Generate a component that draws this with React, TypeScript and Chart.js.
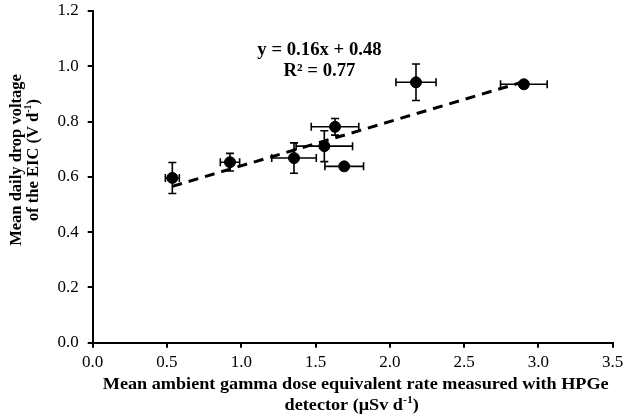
import React, { useEffect, useRef } from "react";
import { Chart, registerables } from "chart.js";
Chart.register(...registerables);

const xValues = [0.536, 0.924, 1.355, 1.559, 1.631, 1.693, 2.176, 2.902];
const yValues = [0.596, 0.653, 0.668, 0.711, 0.781, 0.638, 0.942, 0.935];
const xErrors = [0.047, 0.065, 0.15, 0.19, 0.16, 0.13, 0.135, 0.157];
const yErrors = [0.056, 0.032, 0.055, 0.056, 0.03, 0.0, 0.066, 0.0];
const trendSlope = 0.16;
const trendIntercept = 0.48;
const equationLines = ["y = 0.16x + 0.48", "R² = 0.77"];
const xTitle1 = "Mean ambient gamma dose equivalent rate measured with HPGe";
const xTitle2 = [{ t: "detector (μSv d" }, { t: "-1", sup: true }, { t: ")" }];
const yTitle1 = "Mean daily drop voltage";
const yTitle2 = [{ t: "of the EIC (V d" }, { t: "-1", sup: true }, { t: ")" }];

const FONT = "'Liberation Serif', 'Times New Roman', serif";

type Seg = { t: string; sup?: boolean };

function drawRich(
  ctx: CanvasRenderingContext2D,
  segs: Seg[],
  cx: number,
  cy: number,
  size: number,
  stretch = 1
) {
  const main = `bold ${size}px ${FONT}`;
  const sub = `bold ${Math.round(size * 0.62)}px ${FONT}`;
  let total = 0;
  const widths = segs.map((s) => {
    ctx.font = s.sup ? sub : main;
    const w = ctx.measureText(s.t).width;
    total += w;
    return w;
  });
  ctx.save();
  ctx.translate(cx, cy);
  ctx.scale(stretch, 1);
  let x = -total / 2;
  ctx.textAlign = "left";
  ctx.textBaseline = "middle";
  segs.forEach((s, i) => {
    ctx.font = s.sup ? sub : main;
    ctx.fillText(s.t, x, s.sup ? -size * 0.32 : 0);
    x += widths[i];
  });
  ctx.restore();
}

export default function App() {
  const ref = useRef<HTMLCanvasElement>(null);
  useEffect(() => {
    document.body.style.margin = "0";
    const canvas = ref.current!;
    const points = xValues.map((x, i) => ({ x, y: yValues[i] }));
    const xMin = Math.min(...xValues);
    const xMax = Math.max(...xValues);
    const trend = [
      { x: xMin, y: trendSlope * xMin + trendIntercept },
      { x: xMax, y: trendSlope * xMax + trendIntercept },
    ];

    const errorBars = {
      id: "errorBars",
      beforeDatasetsDraw(chart: any) {
        const { ctx, scales } = chart;
        const xs = scales.x;
        const ys = scales.y;
        ctx.save();
        ctx.strokeStyle = "#000";
        ctx.lineWidth = 1.6;
        const cap = 4;
        for (let i = 0; i < xValues.length; i++) {
          const px = xs.getPixelForValue(xValues[i]);
          const py = ys.getPixelForValue(yValues[i]);
          if (xErrors[i] > 0) {
            const l = xs.getPixelForValue(xValues[i] - xErrors[i]);
            const r = xs.getPixelForValue(xValues[i] + xErrors[i]);
            ctx.beginPath();
            ctx.moveTo(l, py); ctx.lineTo(r, py);
            ctx.moveTo(l, py - cap); ctx.lineTo(l, py + cap);
            ctx.moveTo(r, py - cap); ctx.lineTo(r, py + cap);
            ctx.stroke();
          }
          if (yErrors[i] > 0) {
            const t = ys.getPixelForValue(yValues[i] + yErrors[i]);
            const b = ys.getPixelForValue(yValues[i] - yErrors[i]);
            ctx.beginPath();
            ctx.moveTo(px, t); ctx.lineTo(px, b);
            ctx.moveTo(px - cap, t); ctx.lineTo(px + cap, t);
            ctx.moveTo(px - cap, b); ctx.lineTo(px + cap, b);
            ctx.stroke();
          }
        }
        ctx.restore();
      },
    };

    const titles = {
      id: "titles",
      afterDraw(chart: any) {
        const { ctx, chartArea } = chart;
        ctx.save();
        ctx.fillStyle = "#000";
        const cx = (chartArea.left + chartArea.right) / 2;
        drawRich(ctx, [{ t: xTitle1 }], cx + 3, 384.5, 17, 1.07);
        drawRich(ctx, xTitle2, cx - 1, 406, 17, 1.07);
        ctx.save();
        ctx.translate(17, 160);
        ctx.rotate(-Math.PI / 2);
        drawRich(ctx, [{ t: yTitle1 }], 0, 0, 16.5);
        ctx.restore();
        ctx.save();
        ctx.translate(34, 160);
        ctx.rotate(-Math.PI / 2);
        drawRich(ctx, yTitle2, 0, 0, 16.5);
        ctx.restore();
        drawRich(ctx, [{ t: equationLines[0] }], 319.5, 50.5, 18, 1.04);
        drawRich(ctx, [{ t: equationLines[1] }], 319.5, 71.5, 18, 1.04);
        ctx.restore();
      },
    };

    const chart = new Chart(canvas, {
      type: "scatter",
      data: {
        datasets: [
          {
            type: "line",
            data: trend,
            borderColor: "#000",
            borderWidth: 3,
            borderDash: [10, 7],
            pointRadius: 0,
            fill: false,
            order: 1,
          } as any,
          {
            data: points,
            backgroundColor: "#000",
            borderColor: "#000",
            pointRadius: 5.5,
            pointHoverRadius: 5.5,
            order: 0,
          },
        ],
      },
      options: {
        responsive: false,
        animation: false,
        devicePixelRatio: 1,
        layout: { padding: { left: 0, right: 12.3, top: 11, bottom: 0 } },
        plugins: { legend: { display: false }, tooltip: { enabled: false } },
        scales: {
          x: {
            type: "linear",
            min: 0,
            max: 3.5,
            ticks: {
              stepSize: 0.5,
              callback: (v: any) => Number(v).toFixed(1),
              font: { family: FONT, size: 17 },
              color: "#000",
              padding: 5,
              maxRotation: 0,
            },
            grid: { drawOnChartArea: false, drawTicks: true, tickLength: 5, color: "#000", lineWidth: 2 },
            border: { color: "#000", width: 2 },
            afterFit: (s: any) => {
              s.height = 73.3;
              s.paddingLeft = 0;
              s.paddingRight = 0;
            },
          },
          y: {
            type: "linear",
            min: 0,
            max: 1.2,
            ticks: {
              stepSize: 0.2,
              callback: (v: any) => Number(v).toFixed(1),
              font: { family: FONT, size: 17 },
              color: "#000",
              padding: 9,
            },
            grid: { drawOnChartArea: false, drawTicks: true, tickLength: 5, color: "#000", lineWidth: 2 },
            border: { color: "#000", width: 2 },
            afterFit: (s: any) => {
              s.width = 92.7;
              s.paddingTop = 0;
              s.paddingBottom = 0;
            },
          },
        },
      },
      plugins: [errorBars, titles],
    });
    return () => chart.destroy();
  }, []);
  return (
    <div style={{ position: "absolute", left: 0, top: 0, width: 625, height: 416 }}>
      <canvas ref={ref} width={625} height={416} style={{ display: "block", width: 625, height: 416 }} />
    </div>
  );
}
